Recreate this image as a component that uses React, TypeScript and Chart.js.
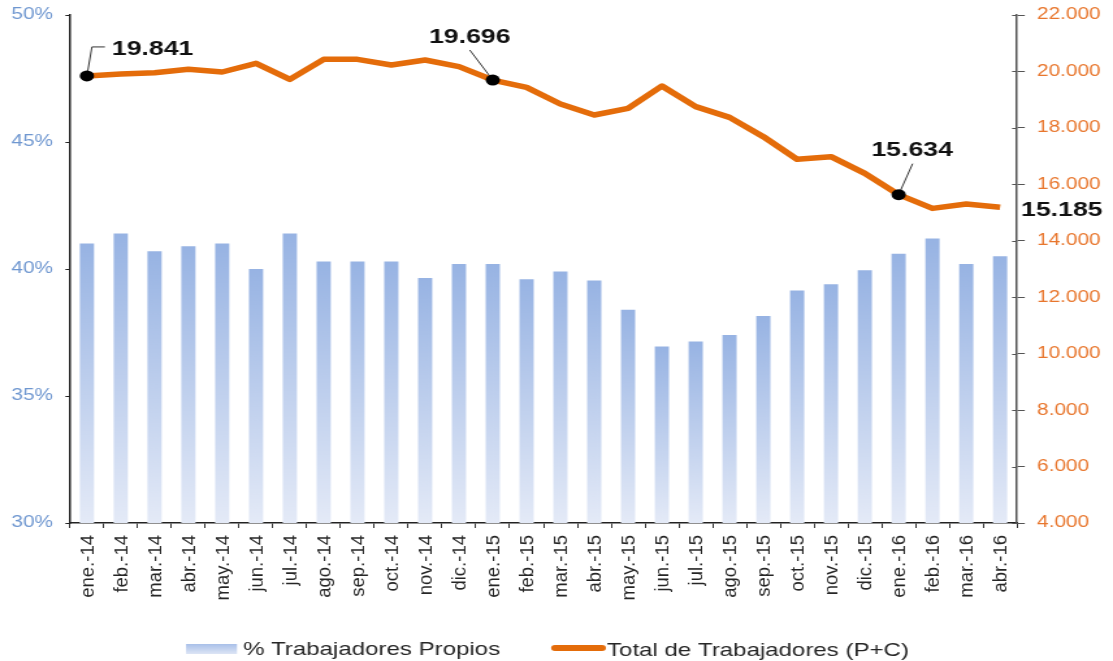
import { useEffect, useRef } from 'react';
import { Chart, registerables } from 'chart.js';

Chart.register(...registerables);

// ---------- data ----------
const categories = [
  'ene.-14', 'feb.-14', 'mar.-14', 'abr.-14', 'may.-14', 'jun.-14', 'jul.-14',
  'ago.-14', 'sep.-14', 'oct.-14', 'nov.-14', 'dic.-14', 'ene.-15', 'feb.-15',
  'mar.-15', 'abr.-15', 'may.-15', 'jun.-15', 'jul.-15', 'ago.-15', 'sep.-15',
  'oct.-15', 'nov.-15', 'dic.-15', 'ene.-16', 'feb.-16', 'mar.-16', 'abr.-16',
];

const pctPropios = [
  41.0, 41.4, 40.7, 40.9, 41.0, 40.0, 41.4, 40.3, 40.3, 40.3, 39.65, 40.2, 40.2, 39.6,
  39.9, 39.55, 38.4, 36.95, 37.15, 37.4, 38.15, 39.15, 39.4, 39.95, 40.6, 41.2, 40.2, 40.5,
];

const totalTrabajadores = [
  19841, 19909, 19956, 20075, 19980, 20287, 19720, 20429, 20429, 20228, 20405, 20169, 19696, 19437,
  18846, 18456, 18693, 19484, 18752, 18374, 17688, 16885, 16980, 16389, 15634, 15148, 15302, 15185,
];

const pctTicks = [30, 35, 40, 45, 50];
const totalTicks = [4000, 6000, 8000, 10000, 12000, 14000, 16000, 18000, 20000, 22000];
const labeledPoints = [0, 12, 24, 27];
const seriesNames = ['% Trabajadores Propios', 'Total de Trabajadores (P+C)'];

// ---------- layout / style ----------
const SCREEN_W = 1113;
const H = 661;
const W = 856; // internal canvas width, stretched horizontally to SCREEN_W
const S = SCREEN_W / W;
const FONT = '"Liberation Sans", Arial, sans-serif';
const ORANGE = '#E46C0A';

const annotationLayout: Record<number, { dot: boolean; leader: number[][]; text: number[]; align: CanvasTextAlign }> = {
  0: { dot: true, leader: [[5, -29], [18, -29]], text: [25, -21], align: 'left' },
  12: { dot: true, leader: [[-23, -30]], text: [-23, -37], align: 'center' },
  24: { dot: true, leader: [[14, -31]], text: [13.5, -39], align: 'center' },
  27: { dot: false, leader: [], text: [21, 9], align: 'left' },
};

const fmt = (v: number) => String(Math.round(v)).replace(/\B(?=(\d{3})+(?!\d))/g, '.');

const overlay = {
  id: 'overlay',
  afterDatasetsDraw(chart: any) {
    const ctx = chart.ctx as CanvasRenderingContext2D;
    const meta = chart.getDatasetMeta(1);
    labeledPoints.forEach((i) => {
      const el = meta.data[i];
      const px = el.x;
      const py = el.y;
      const L = annotationLayout[i];
      ctx.save();
      if (L.leader.length) {
        ctx.beginPath();
        ctx.moveTo(px, py);
        L.leader.forEach(([dx, dy]) => ctx.lineTo(px + dx / S, py + dy));
        ctx.strokeStyle = '#333';
        ctx.lineWidth = 1;
        ctx.stroke();
      }
      if (L.dot) {
        ctx.beginPath();
        ctx.arc(px, py, 5.5, 0, Math.PI * 2);
        ctx.fillStyle = '#000';
        ctx.fill();
      }
      ctx.font = `bold 20.5px ${FONT}`;
      ctx.fillStyle = '#111';
      ctx.textAlign = L.align;
      ctx.textBaseline = 'alphabetic';
      ctx.fillText(fmt(totalTrabajadores[i]), px + L.text[0] / S, py + L.text[1]);
      ctx.restore();
    });
  },
  afterDraw(chart: any) {
    const ctx = chart.ctx as CanvasRenderingContext2D;
    // inner tick marks on right axis
    const y1 = chart.scales.y1;
    ctx.save();
    ctx.beginPath();
    y1.ticks.forEach((t: any) => {
      const y = Math.round(y1.getPixelForValue(t.value)) + 0.5;
      ctx.moveTo(y1.left - 3.8, y);
      ctx.lineTo(y1.left, y);
    });
    ctx.strokeStyle = '#555';
    ctx.lineWidth = 1;
    ctx.stroke();
    ctx.restore();

    // rotated category labels
    const xs = chart.scales.x;
    categories.forEach((c, i) => {
      const x = xs.getPixelForValue(i);
      ctx.save();
      ctx.translate(x, 535);
      ctx.scale(1 / S, 1);
      ctx.rotate(-Math.PI / 2);
      ctx.font = `18.5px ${FONT}`;
      ctx.fillStyle = '#262626';
      ctx.textAlign = 'right';
      ctx.textBaseline = 'middle';
      ctx.fillText(c, 0, 1.5);
      ctx.restore();
    });

    // legend
    ctx.save();
    const g = ctx.createLinearGradient(0, 644, 0, 654);
    g.addColorStop(0, '#A9C0E9');
    g.addColorStop(1, '#DDE5F5');
    ctx.fillStyle = g;
    ctx.fillRect(186 / S, 644, 51 / S, 10);
    ctx.font = `18.5px ${FONT}`;
    ctx.fillStyle = '#262626';
    ctx.textAlign = 'left';
    ctx.textBaseline = 'alphabetic';
    ctx.fillText(seriesNames[0], 243 / S, 655);
    ctx.beginPath();
    ctx.moveTo(555 / S, 648);
    ctx.lineTo(602 / S, 648);
    ctx.strokeStyle = ORANGE;
    ctx.lineWidth = 6;
    ctx.lineCap = 'round';
    ctx.stroke();
    ctx.fillText(seriesNames[1], 607 / S, 656);
    ctx.restore();
  },
};

export default function App() {
  const ref = useRef<HTMLCanvasElement | null>(null);

  useEffect(() => {
    const canvas = ref.current;
    if (!canvas) return;
    const chart = new Chart(canvas, {
      type: 'bar',
      data: {
        labels: categories,
        datasets: [
          {
            type: 'bar',
            label: seriesNames[0],
            data: pctPropios,
            yAxisID: 'y',
            order: 1,
            barPercentage: 0.42,
            categoryPercentage: 1,
            backgroundColor: (c: any) => {
              const chart = c.chart;
              const area = chart.chartArea;
              if (!area || c.type !== 'data') return '#A9C0E9';
              const top = chart.scales.y.getPixelForValue(c.raw);
              const g = chart.ctx.createLinearGradient(0, top, 0, area.bottom);
              g.addColorStop(0, '#97B3E3');
              g.addColorStop(1, '#E4EAF7');
              return g;
            },
            borderWidth: 0,
          },
          {
            type: 'line',
            label: seriesNames[1],
            data: totalTrabajadores,
            yAxisID: 'y1',
            order: 0,
            borderColor: ORANGE,
            backgroundColor: ORANGE,
            borderWidth: 5.5,
            pointRadius: 0,
            borderJoinStyle: 'round',
            borderCapStyle: 'butt',
            tension: 0,
          },
        ],
      } as any,
      options: {
        responsive: false,
        devicePixelRatio: 1,
        animation: false,
        layout: { padding: { top: 15, left: 0, right: 0, bottom: 0 } },
        plugins: { legend: { display: false }, tooltip: { enabled: false } },
        scales: {
          x: {
            type: 'category',
            offset: true,
            grid: { display: true, drawOnChartArea: false, drawTicks: true, tickLength: 5, color: '#333', offset: true },
            border: { display: true, color: '#222', width: 1.5 },
            ticks: { display: false, autoSkip: false },
            afterFit: (s: any) => { s.height = H - 523; s.paddingLeft = 0; s.paddingRight = 0; },
          },
          y: {
            position: 'left',
            min: pctTicks[0],
            max: pctTicks[pctTicks.length - 1],
            ticks: {
              stepSize: pctTicks[1] - pctTicks[0],
              callback: (v: any) => `${v}%`,
              color: '#6F97D0',
              font: { family: FONT, size: 16 },
              padding: 9.5,
            },
            grid: { display: true, drawOnChartArea: false, drawTicks: true, tickLength: 3.5, color: '#222' },
            border: { display: true, color: '#222', width: 1.5 },
            afterFit: (s: any) => { s.width = 70 / S; s.paddingTop = 0; s.paddingBottom = 0; },
          },
          y1: {
            position: 'right',
            min: totalTicks[0],
            max: totalTicks[totalTicks.length - 1],
            ticks: {
              stepSize: totalTicks[1] - totalTicks[0],
              callback: (v: any) => fmt(Number(v)),
              color: '#E8762D',
              font: { family: FONT, size: 16 },
              padding: 9.4,
            },
            grid: { display: true, drawOnChartArea: false, drawTicks: true, tickLength: 6, color: '#555' },
            border: { display: true, color: '#555', width: 1.5 },
            afterFit: (s: any) => { s.width = W - 1017 / S; s.paddingTop = 0; s.paddingBottom = 0; },
          },
        },
      } as any,
      plugins: [overlay],
    });
    return () => chart.destroy();
  }, []);

  return (
    <div style={{ position: 'absolute', left: 0, top: 0, width: SCREEN_W, height: H, background: '#fff' }}>
      <canvas
        ref={ref}
        width={W}
        height={H}
        style={{ display: 'block', width: `${SCREEN_W}px`, height: `${H}px` }}
      />
    </div>
  );
}
